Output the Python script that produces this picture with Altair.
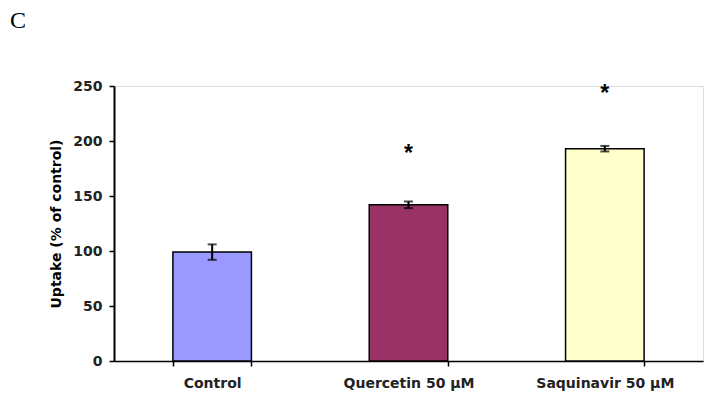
import altair as alt
import pandas as pd

categories = ["Control", "Quercetin 50 µM", "Saquinavir 50 µM"]
uptake = [99, 142, 193]
err = [7, 3, 2.5]
colors = ["#9999FF", "#993366", "#FFFFCC"]
sig_y = [None, 193, 247]

df = pd.DataFrame({
    "cat": categories,
    "val": uptake,
    "lo": [v - e for v, e in zip(uptake, err)],
    "hi": [v + e for v, e in zip(uptake, err)],
    "color": colors,
})
sig = pd.DataFrame({"cat": [c for c, s in zip(categories, sig_y) if s is not None],
                    "y": [s for s in sig_y if s is not None]})

font = "DejaVu Sans"
xscale = alt.Scale(domain=categories, paddingInner=0.6, paddingOuter=0.3)
xenc = alt.X("cat:N", sort=categories, scale=xscale, title=None,
             axis=alt.Axis(labelAngle=0, tickBand="extent", labelFont=font, labelFontWeight="bold",
                           labelFontSize=14, labelColor="#222222", labelPadding=10,
                           domainColor="black", domainWidth=1.5, tickColor="black",
                           tickWidth=1.5, tickSize=5))
yscale = alt.Scale(domain=[0, 250], nice=False)
yaxis = alt.Axis(values=[0, 50, 100, 150, 200, 250], grid=False, labelFont=font,
                 labelFontWeight="bold", labelFontSize=14, labelColor="#222222",
                 labelPadding=7, domainColor="black", domainWidth=2, tickColor="black",
                 tickWidth=1.5, tickSize=5, title="Uptake (% of control)", titleFont=font,
                 titleFontSize=14, titleFontWeight="bold", titleColor="black", titlePadding=9)

bars = alt.Chart(df).mark_bar(stroke="black", strokeWidth=1.5).encode(
    x=xenc,
    y=alt.Y("val:Q", scale=yscale, axis=yaxis),
    color=alt.Color("color:N", scale=None),
)
rules = alt.Chart(df).mark_rule(color="black", strokeWidth=2).encode(
    x=alt.X("cat:N", sort=categories, scale=xscale), y="lo:Q", y2="hi:Q")
caps_hi = alt.Chart(df).mark_tick(color="black", orient="horizontal", size=9, thickness=2).encode(
    x=alt.X("cat:N", sort=categories, scale=xscale), y="hi:Q")
caps_lo = alt.Chart(df).mark_tick(color="black", orient="horizontal", size=9, thickness=2).encode(
    x=alt.X("cat:N", sort=categories, scale=xscale), y="lo:Q")
stars = alt.Chart(sig).mark_text(text="*", font="Liberation Sans", fontWeight="bold", fontSize=23,
                                 baseline="middle", dy=5, color="black").encode(
    x=alt.X("cat:N", sort=categories, scale=xscale), y="y:Q")

chart = alt.layer(bars, rules, caps_hi, caps_lo, stars).properties(
    width=589, height=275,
    autosize=alt.AutoSizeParams(type="none"),
    padding={"left": 106, "top": 78, "right": 1, "bottom": 40},
    title=alt.TitleParams("C", anchor="start", frame="group", dx=-104, offset=46,
                          font="Liberation Serif", fontSize=24, fontWeight="normal",
                          color="black"),
).configure_view(stroke=None).configure(background="white")

chart.save("out.html", embed_options={"renderer": "svg", "actions": False})
